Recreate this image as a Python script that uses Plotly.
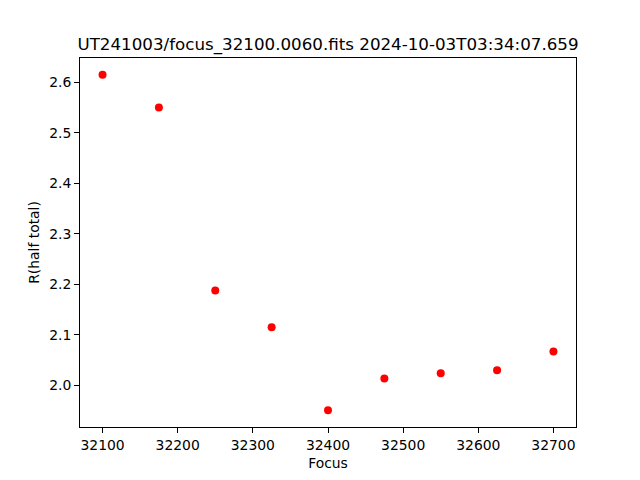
import plotly.graph_objects as go

focus = [32100, 32175, 32250, 32325, 32400, 32475, 32550, 32625, 32700]
r_half = [2.615, 2.550, 2.188, 2.115, 1.951, 2.014, 2.024, 2.030, 2.067]
title = "UT241003/focus_32100.0060.fits 2024-10-03T03:34:07.659"
x_ticks = [32100, 32200, 32300, 32400, 32500, 32600, 32700]
y_ticks = [2.0, 2.1, 2.2, 2.3, 2.4, 2.5, 2.6]

fig = go.Figure()
fig.add_trace(go.Scatter(
    x=focus, y=r_half, mode="markers",
    marker=dict(color="red", size=8, line=dict(width=0)),
    showlegend=False,
))

xmin, xmax = min(focus), max(focus)
ymin, ymax = min(r_half), max(r_half)
xm = 0.05 * (xmax - xmin)
ym = 0.05 * (ymax - ymin)

axis_common = dict(
    showgrid=False, zeroline=False, showline=True, linecolor="black",
    linewidth=1, mirror=True, ticks="outside", ticklen=5, tickwidth=1,
    tickcolor="black", tickfont=dict(size=13.9, color="black"),
    automargin=False,
)

W, H = 624, 464
fig.update_layout(
    width=W, height=H,
    margin=dict(l=72, r=56, t=50, b=45),
    paper_bgcolor="white", plot_bgcolor="white",
    font=dict(family="DejaVu Sans", color="black"),
    title=dict(text=title, xref="paper", x=0.5, xanchor="center",
               y=1 - 36 / H, yanchor="middle",
               font=dict(size=16.7, color="black")),
    xaxis=dict(range=[xmin - xm, xmax + xm], tickvals=x_ticks,
               ticktext=[str(v) for v in x_ticks],
               title=dict(text="Focus", font=dict(size=13.9), standoff=6),
               **axis_common),
    yaxis=dict(range=[ymin - ym, ymax + ym], tickvals=y_ticks,
               ticktext=[f"{v:.1f}" for v in y_ticks],
               title=dict(text="R(half total)", font=dict(size=13.9), standoff=6),
               **axis_common),
)

fig.write_html("out.html")
